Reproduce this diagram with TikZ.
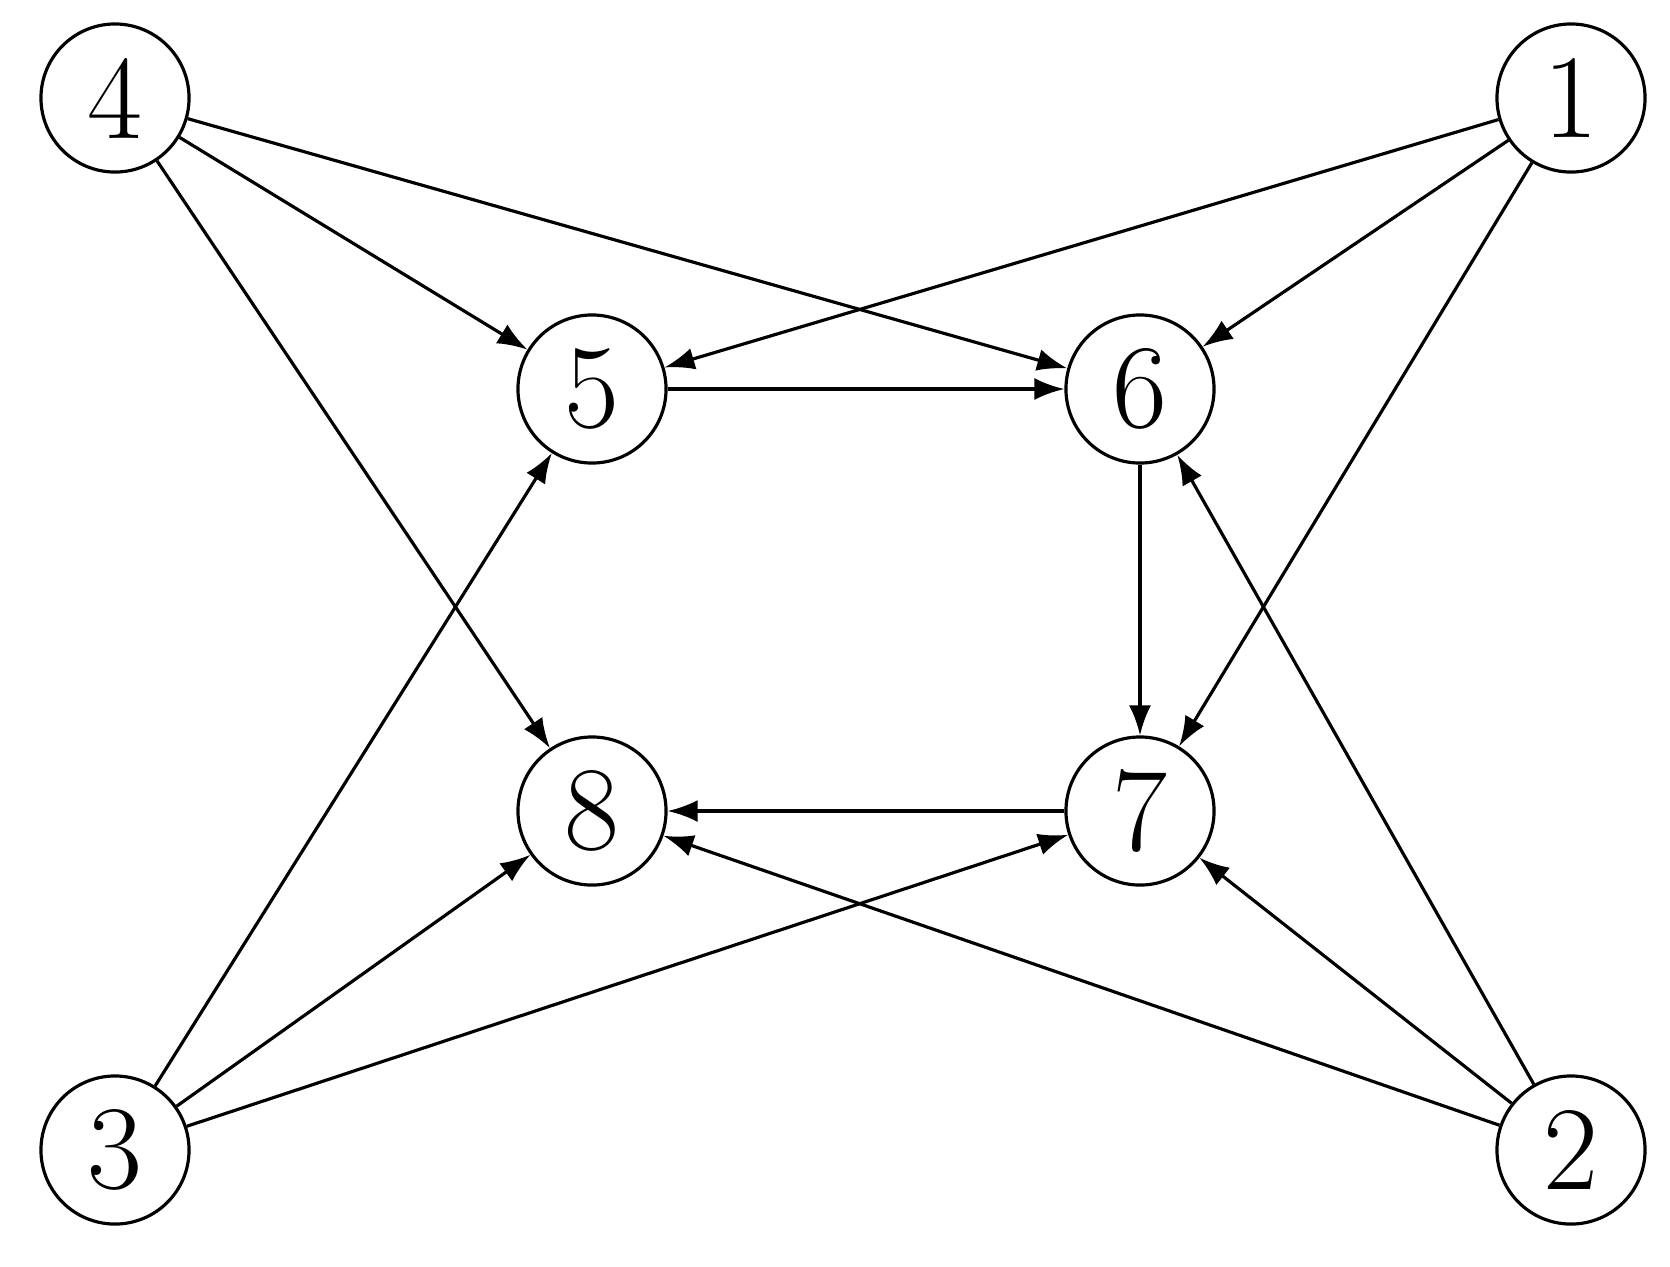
\documentclass[tikz,border=0pt]{standalone}
\usetikzlibrary{arrows.meta}
\begin{document}
\begin{tikzpicture}[x=0.01cm,y=-0.01cm,
  vtx/.style={circle,draw,line width=0.9pt,minimum size=1.48cm,inner sep=0pt,font=\fontsize{34}{40}\selectfont},
  arr/.style={line width=0.9pt,-{Latex[length=0.3cm,width=0.22cm]}}]
\useasboundingbox (0,0) rectangle (1670,1266);
\node[vtx] (n4) at (115,98) {4};
\node[vtx] (n1) at (1571,98) {1};
\node[vtx] (n3) at (115,1150) {3};
\node[vtx] (n2) at (1571,1150) {2};
\node[vtx] (n5) at (592,389) {5};
\node[vtx] (n6) at (1140,389) {6};
\node[vtx] (n8) at (592,811) {8};
\node[vtx] (n7) at (1140,811) {7};
\foreach \a/\b in {n4/n5,n4/n6,n4/n8,n1/n5,n1/n6,n1/n7,n5/n6,n6/n7,n7/n8,n3/n5,n3/n8,n3/n7,n2/n6,n2/n7,n2/n8}
  \draw[arr] (\a) -- (\b);
\end{tikzpicture}
\end{document}
